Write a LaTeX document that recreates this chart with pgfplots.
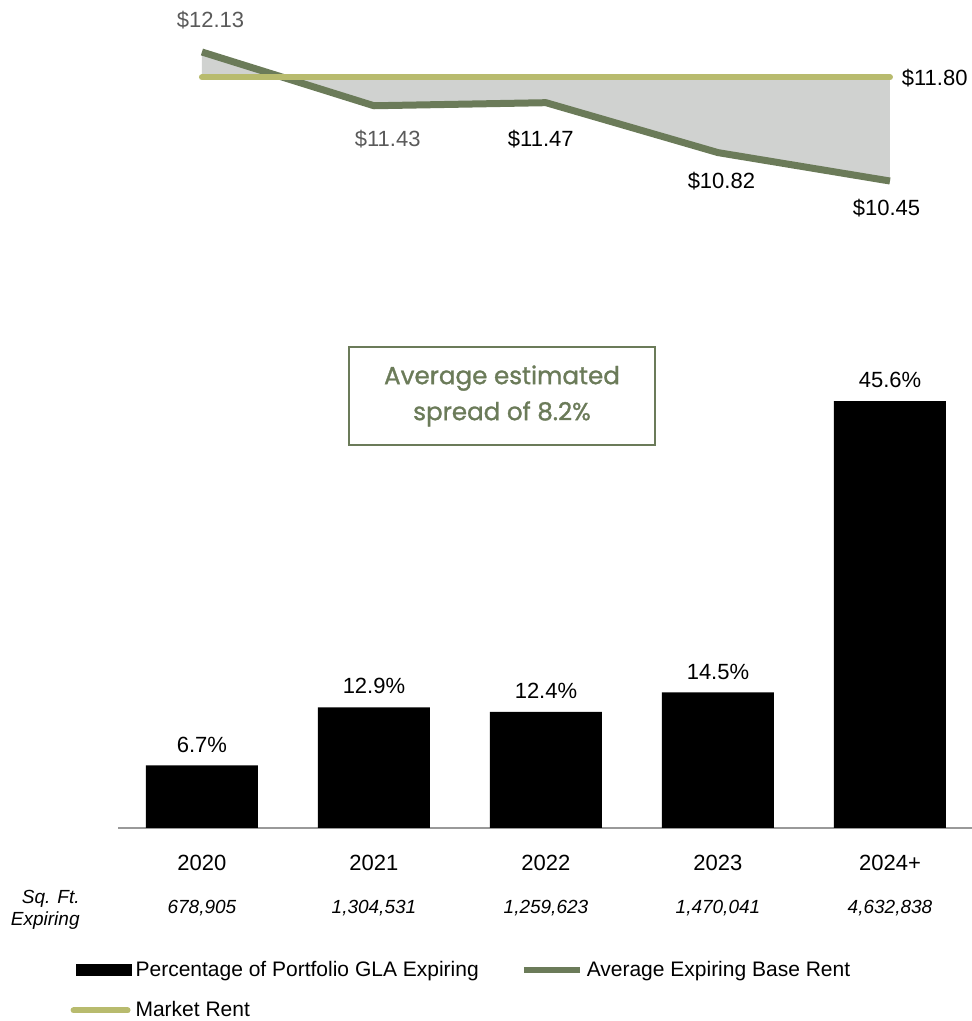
\documentclass[border=0pt]{standalone}
\usepackage{pgfplots}
\pgfplotsset{compat=1.18}
\usepackage{fontspec}
\setmainfont{Liberation Sans}
\newfontfamily\boxfont{Poppins}[FakeBold=1.2]
\definecolor{baserent}{HTML}{6B7B59}
\definecolor{mktrent}{HTML}{B8BB6E}
\definecolor{spreadfill}{HTML}{D0D2D0}
\definecolor{lblgray}{HTML}{5A5A5A}
\begin{document}
\begin{tikzpicture}
\useasboundingbox (0,0) rectangle (486pt,510.5pt);
% ---------------- line chart ----------------
\begin{axis}[
  at={(59pt,402.7pt)}, anchor=south west,
  width=427pt, height=96pt, scale only axis,
  xmin=-0.488, xmax=4.477, ymin=10, ymax=12.5,
  hide axis, clip=false,
  /pgf/number format/assume math mode=true,
]
\addplot[fill=spreadfill, draw=none] coordinates {(0,12.13) (1,11.43) (2,11.47) (3,10.82) (4,10.45) (4,11.80) (0,11.80)} -- cycle;
\addplot[color=baserent, line width=3.5pt, line join=round] coordinates {(0,12.13) (1,11.43) (2,11.47) (3,10.82) (4,10.45)};
\addplot[color=mktrent, line width=3pt, line cap=round] coordinates {(0,11.80) (1,11.80) (2,11.80) (3,11.80) (4,11.80)};
\begin{scope}[font=\fontsize{11}{13}\selectfont]
\node[lblgray] at (axis cs:0.05,12.547) {\$12.13};
\node[lblgray] at (axis cs:1.08,10.997) {\$11.43};
\node at (axis cs:1.97,10.997) {\$11.47};
\node at (axis cs:3.02,10.45) {\$10.82};
\node at (axis cs:3.98,10.10) {\$10.45};
\node at (axis cs:4.26,11.79) {\$11.80};
\end{scope}
\end{axis}
% ---------------- bar chart ----------------
\begin{axis}[
  at={(59pt,96.5pt)}, anchor=south west,
  width=427pt, height=234pt, scale only axis,
  xmin=-0.488, xmax=4.477, ymin=0, ymax=50,
  ybar, bar width=56pt,
  axis x line*=bottom, axis y line=none,
  x axis line style={draw=black!40, line width=0.8pt, -},
  xtick={0,1,2,3,4},
  xticklabels={2020,2021,2022,2023,2024+},
  major tick length=0pt,
  xticklabel style={font=\fontsize{11}{13}\selectfont, anchor=center, yshift=-17.5pt},
  /pgf/number format/assume math mode=true,
  nodes near coords={\pgfmathprintnumber[fixed,fixed zerofill,precision=1]{\pgfplotspointmeta}\%},
  every node near coord/.append style={font=\fontsize{11}{13}\selectfont, black, yshift=3pt},
  clip=false,
  legend columns=2,
  legend style={draw=none, fill=none, at={(-0.056,-0.275)}, anchor=north west,
    inner xsep=0pt, inner ysep=0pt, font=\fontsize{10.5}{12}\selectfont,
    /tikz/every even column/.append style={column sep=19pt}, row sep=7pt,
    legend cell align=left},
]
\addplot[fill=black, draw=none,
  legend image code/.code={\fill[black] (0pt,-3pt) rectangle (28pt,3pt);}]
  coordinates {(0,6.7) (1,12.9) (2,12.4) (3,14.5) (4,45.6)};
\addlegendentry{Percentage of Portfolio GLA Expiring}
\addlegendimage{legend image code/.code={\draw[baserent, line width=3pt] (0pt,0pt) -- (28pt,0pt);}}
\addlegendentry{Average Expiring Base Rent}
\addlegendimage{legend image code/.code={\draw[mktrent, line width=3pt, line cap=round] (-1pt,0pt) -- (26pt,0pt);}}
\addlegendentry{Market Rent}
\begin{scope}[font=\fontsize{9.5}{10}\selectfont\itshape]
\node at (axis cs:0,0) [yshift=-40pt] {678,905};
\node at (axis cs:1,0) [yshift=-40pt] {1,304,531};
\node at (axis cs:2,0) [yshift=-40pt] {1,259,623};
\node at (axis cs:3,0) [yshift=-40pt] {1,470,041};
\node at (axis cs:4,0) [yshift=-40pt] {4,632,838};
\end{scope}
\end{axis}
% ---------------- annotations ----------------
\node[anchor=east, align=right, font=\fontsize{9.5}{11}\selectfont\itshape, inner sep=0pt] at (40pt,55.5pt) {Sq. Ft.\\Expiring};
\node[draw=baserent, line width=1pt, minimum width=153pt, minimum height=49pt, align=center,
  text=baserent, font=\boxfont\fontsize{12.3}{18}\selectfont] at (251pt,312.5pt) {Average estimated\\spread of 8.2\%};
\end{tikzpicture}
\end{document}
